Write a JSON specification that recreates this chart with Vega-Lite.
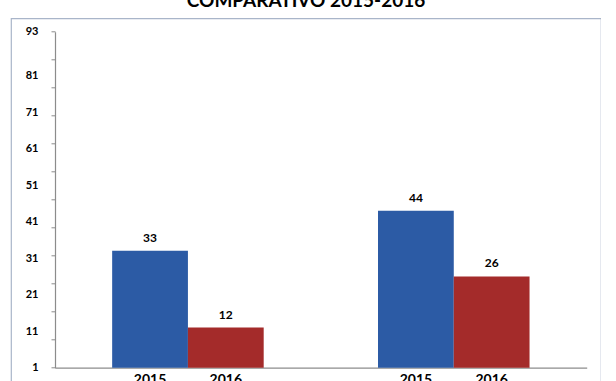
{
  "$schema": "https://vega.github.io/schema/vega-lite/v6.json",
  "autosize": {"type": "none"},
  "padding": {"left": 11, "top": 18.3, "right": 0, "bottom": 0},
  "width": 590,
  "height": 380,
  "background": "white",
  "title": {
    "text": "COMPARATIVO 2015-2016",
    "font": "Lato",
    "fontSize": 19,
    "fontWeight": "bold",
    "color": "#000000",
    "anchor": "middle",
    "frame": "group",
    "baseline": "alphabetic",
    "offset": 3,
    "dy": 10.5
  },
  "config": {
    "view": {"stroke": "#a9b5c9", "strokeWidth": 1.2},
    "font": "Lato"
  },
  "data": {
    "values": [
      {"grupo": "A", "anio": "2015", "valor": 33},
      {"grupo": "A", "anio": "2016", "valor": 12},
      {"grupo": "B", "anio": "2015", "valor": 44},
      {"grupo": "B", "anio": "2016", "valor": 26}
    ]
  },
  "encoding": {
    "x": {
      "field": "grupo",
      "type": "nominal",
      "scale": {"range": [44, 575.7], "paddingInner": 0.43, "paddingOuter": 0.215}
    },
    "xOffset": {
      "field": "anio",
      "type": "nominal",
      "scale": {"paddingInner": 0, "paddingOuter": 0}
    }
  },
  "layer": [
    {
      "mark": {"type": "bar"},
      "encoding": {
        "x": {
          "field": "grupo",
          "type": "nominal",
          "axis": {"orient": "bottom", "offset": -30.6, "labels": false, "ticks": false, "title": null, "domainColor": "#8c8c8c", "domainWidth": 1.2}
        },
        "y": {
          "field": "valor",
          "type": "quantitative",
          "scale": {"domain": [1, 93], "range": [349.4, 13.4], "nice": false, "zero": false},
          "axis": {
            "orient": "left",
            "offset": -44,
            "values": [1, 8.667, 16.333, 24, 31.667, 39.333, 47, 54.667, 62.333, 70, 77.667, 85.333, 93],
            "labels": false,
            "ticks": true,
            "tickSize": 4,
            "tickColor": "#8c8c8c",
            "domainColor": "#8c8c8c",
            "domainWidth": 1.2,
            "grid": false,
            "title": null
          }
        },
        "y2": {"datum": 1},
        "color": {
          "field": "anio",
          "type": "nominal",
          "scale": {"domain": ["2015", "2016"], "range": ["#2c5ba5", "#a42b2a"]},
          "legend": null
        }
      }
    },
    {
      "mark": {"type": "text", "baseline": "bottom", "dy": -6, "fontSize": 12, "fontWeight": "bold", "color": "#000000"},
      "encoding": {
        "x": {"field": "grupo", "type": "nominal", "axis": null},
        "y": {
          "field": "valor",
          "type": "quantitative",
          "axis": {
            "orient": "left",
            "offset": -44,
            "values": [1, 11, 21, 31, 41, 51, 61, 71, 81, 93],
            "ticks": false,
            "domain": false,
            "grid": false,
            "labelPadding": 17,
            "labelFontSize": 11,
            "labelFontWeight": "bold",
            "labelColor": "#000000",
            "labelFont": "Lato",
            "title": null
          }
        },
        "text": {"field": "valor", "type": "quantitative"}
      }
    },
    {
      "mark": {"type": "text", "baseline": "top", "dy": 5, "fontSize": 14, "fontWeight": "bold", "color": "#000000"},
      "encoding": {
        "x": {"field": "grupo", "type": "nominal", "axis": null},
        "y": {"datum": 1, "type": "quantitative", "axis": null},
        "text": {"field": "anio", "type": "nominal"}
      }
    }
  ],
  "resolve": {"axis": {"y": "independent", "x": "independent"}}
}
